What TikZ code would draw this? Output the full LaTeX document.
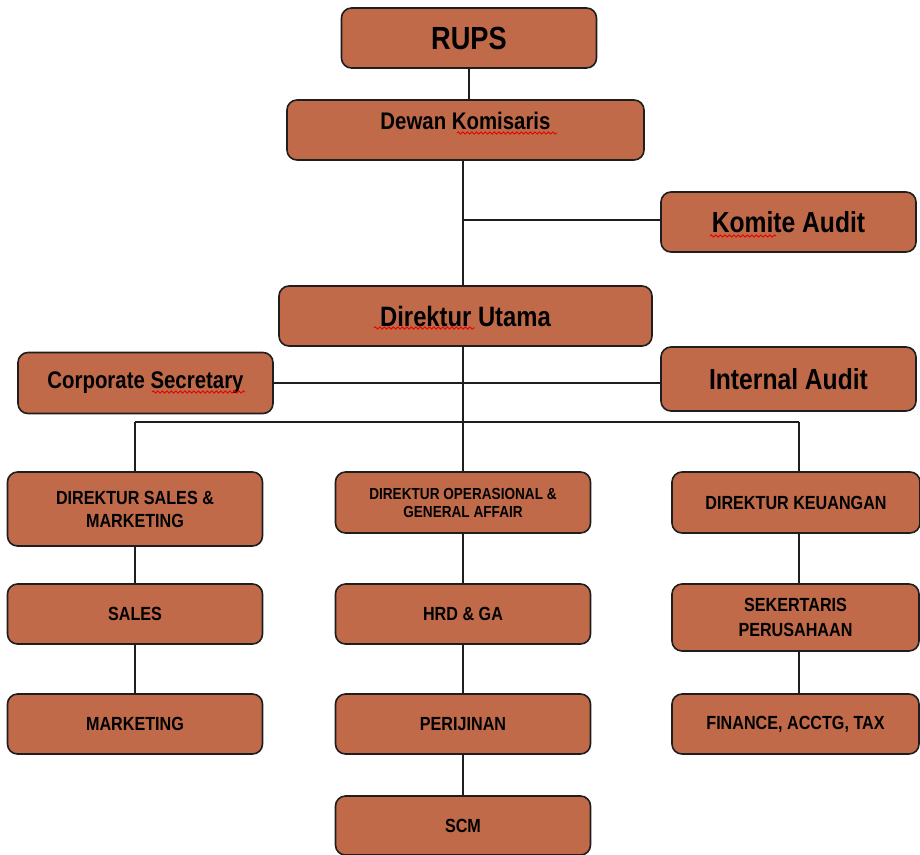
\documentclass[tikz,border=0pt]{standalone}
\usepackage{fontspec}
\setmainfont[FakeStretch=0.85]{Liberation Sans}
\usetikzlibrary{decorations.pathmorphing}
\definecolor{boxfill}{RGB}{192,106,74}
\definecolor{edge}{RGB}{30,30,30}
\begin{document}
\begin{tikzpicture}[x=1pt,y=-1pt,
  orgbox/.style={draw=edge,line width=1.6pt,fill=boxfill,rounded corners=10pt,
    minimum width=255pt,minimum height=60pt,inner sep=2pt,align=center,
    font=\bfseries\fontsize{19}{23}\selectfont},
  link/.style={draw=edge,line width=2pt},
  squig/.style={draw=red!90!black,line width=0.9pt,decorate,
    decoration={snake,amplitude=1.1pt,segment length=4.5pt}}]
\useasboundingbox (0,0) rectangle (920,854);
% nodes
\node[orgbox,font=\bfseries\fontsize{32}{36}\selectfont] (rups) at (469,38) {RUPS};
\node[orgbox,minimum width=357pt] (dewan) at (465.5,130) {};
\node[font=\bfseries\fontsize{24}{28}\selectfont,inner sep=0pt] (dewanT) at (465.5,121) {Dewan Komisaris};
\node[orgbox,font=\bfseries\fontsize{29}{33}\selectfont] (komite) at (788.5,222) {Komite Audit};
\node[orgbox,minimum width=373pt,font=\bfseries\fontsize{28}{32}\selectfont] (utama) at (465.5,316) {Direktur Utama};
\node[orgbox,minimum height=61pt,font=\bfseries\fontsize{24}{28}\selectfont] (corpsec) at (145.5,383) {Corporate Secretary};
\node[orgbox,minimum height=64pt,font=\bfseries\fontsize{29}{33}\selectfont] (internal) at (788.5,379) {Internal Audit};
\node[orgbox,minimum height=74pt] (dirsales) at (135,509) {DIREKTUR SALES \&\\MARKETING};
\node[orgbox,minimum height=61pt,font=\bfseries\fontsize{16}{18}\selectfont] (dirop) at (463,502.5) {DIREKTUR OPERASIONAL \&\\GENERAL AFFAIR};
\node[orgbox,minimum width=248pt,minimum height=61pt] (dirkeu) at (796,502.5) {DIREKTUR KEUANGAN};
\node[orgbox] (sales) at (135,614) {SALES};
\node[orgbox] (hrd) at (463,614) {HRD \& GA};
\node[orgbox,minimum width=247pt,minimum height=67pt,font=\bfseries\fontsize{19}{25}\selectfont] (sek) at (795.5,617.5) {SEKERTARIS\\PERUSAHAAN};
\node[orgbox] (marketing) at (135,724) {MARKETING};
\node[orgbox] (perijinan) at (463,724) {PERIJINAN};
\node[orgbox,minimum width=247pt] (finance) at (795.5,724) {FINANCE, ACCTG, TAX};
\node[orgbox,minimum height=59pt] (scm) at (463,825.5) {SCM};
% coordinates for the trunk and the bar
\coordinate (k) at (463,220);
\coordinate (c1) at (135,422);
\coordinate (c2) at (463,422);
\coordinate (c3) at (799,422);
% connectors
\draw[link] (rups.south) -- (rups.south |- dewan.north);
\draw[link] (k |- dewan.south) -- (k |- utama.north);
\draw[link] (k) -- (k -| komite.west);
\draw[link] (c2 |- utama.south) -- (c2);
\draw[link] (corpsec.east) -- (corpsec.east -| internal.west);
\draw[link] (c1) -- (c3);
\draw[link] (c1) -- (c1 |- dirsales.north);
\draw[link] (c2) -- (c2 |- dirop.north);
\draw[link] (c3) -- (c3 |- dirkeu.north);
\draw[link] (dirsales.south) -- (sales.north);
\draw[link] (sales.south) -- (marketing.north);
\draw[link] (dirop.south) -- (hrd.north);
\draw[link] (hrd.south) -- (perijinan.north);
\draw[link] (perijinan.south) -- (scm.north);
\draw[link] (c3 |- dirkeu.south) -- (c3 |- sek.north);
\draw[link] (c3 |- sek.south) -- (c3 |- finance.north);
% spell-check squiggles
\draw[squig] (457,133) -- (557,133);
\draw[squig] (710,236) -- (776,236);
\draw[squig] (152,392) -- (245,392);
\draw[squig] (374,328) -- (475,328);
\end{tikzpicture}
\end{document}
